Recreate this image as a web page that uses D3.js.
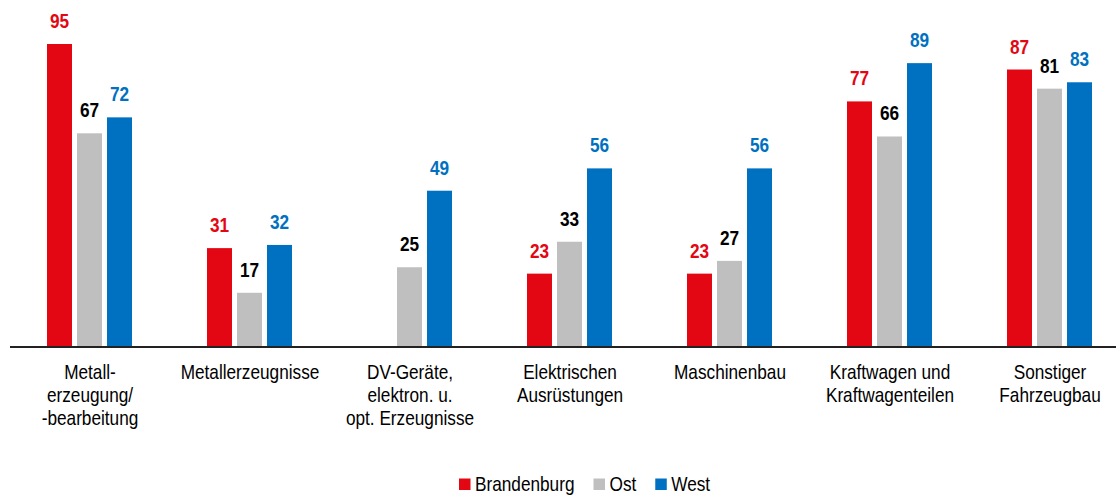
<!DOCTYPE html>
<html><head><meta charset="utf-8">
<script src="https://cdn.jsdelivr.net/npm/d3@7"></script>
<style>
body{margin:0;background:#fff;}
svg{display:block;font-family:"Liberation Sans",Arial,sans-serif;}
</style></head><body>
<svg id="chart" width="1116" height="495"></svg>
<script>
const categories = [
  ["Metall-","erzeugung/","-bearbeitung"],
  ["Metallerzeugnisse"],
  ["DV-Geräte,","elektron. u.","opt. Erzeugnisse"],
  ["Elektrischen","Ausrüstungen"],
  ["Maschinenbau"],
  ["Kraftwagen und","Kraftwagenteilen"],
  ["Sonstiger","Fahrzeugbau"]
];
const seriesNames = ["Brandenburg","Ost","West"];
const brandenburg = [95, 31, null, 23, 23, 77, 87];
const ost = [67, 17, 25, 33, 27, 66, 81];
const west = [72, 32, 49, 56, 56, 89, 83];
const barColors = ["#E30613","#BFBFBF","#0070C0"];
const labelColors = ["#E30613","#000000","#0070C0"];
const NARROW = 0.82;

const svg = d3.select("#chart");
const catKeys = categories.map((c,i)=>i);
const x0 = d3.scaleBand().domain(catKeys).range([10,1130]).padding(0);
const x1 = d3.scaleBand().domain(seriesNames).range([37,122]).paddingInner(1/6).paddingOuter(0);
const y = d3.scaleLinear().domain([0,95]).range([347,44]);

const values = [brandenburg, ost, west];
const data = [];
catKeys.forEach(ci=>{
  seriesNames.forEach((s,si)=>{
    const v = values[si][ci];
    if (v!==null && v!==undefined) data.push({ci, s, si, v});
  });
});

svg.append("g").selectAll("rect").data(data).join("rect")
  .attr("x", d=>x0(d.ci)+x1(d.s))
  .attr("y", d=>y(d.v))
  .attr("width", x1.bandwidth())
  .attr("height", d=>y(0)-y(d.v))
  .attr("fill", d=>barColors[d.si]);

svg.append("g").selectAll("text").data(data).join("text")
  .attr("transform", d=>`translate(${x0(d.ci)+x1(d.s)+x1.bandwidth()/2},${y(d.v)-16}) scale(${NARROW},1)`)
  .attr("text-anchor","middle")
  .attr("font-weight","bold")
  .attr("font-size","21px")
  .attr("fill", d=>labelColors[d.si])
  .text(d=>d.v);

// axis
const xAxis = d3.axisBottom(x0).tickSize(0).tickFormat("");
const ax = svg.append("g").attr("transform",`translate(0,${y(0)})`).call(xAxis);
ax.select(".domain").attr("stroke","#222").attr("stroke-width",2).attr("d","M10,0H1116");

// category labels
const cl = svg.append("g").selectAll("text").data(categories).join("text")
  .attr("text-anchor","middle")
  .attr("font-size","21px")
  .attr("fill","#000")
  .attr("transform",(d,i)=>`translate(${x0(i)+x0.bandwidth()/2},379) scale(${NARROW},1)`);
cl.selectAll("tspan").data(d=>d).join("tspan")
  .attr("x",0).attr("y",(d,i)=>i*23.2).text(d=>d);

// legend
const lg = svg.append("g").attr("transform","translate(459,0)");
let lx = 0;
seriesNames.forEach((s,i)=>{
  lg.append("rect").attr("x",lx).attr("y",478.5).attr("width",11.5).attr("height",11.5).attr("fill",barColors[i]);
  const t = lg.append("text").attr("transform",`translate(${lx+16},491) scale(${NARROW},1)`)
    .attr("font-size","21px").attr("fill","#000").text(s);
  lx += 16 + t.node().getComputedTextLength()*NARROW + 19;
});
</script></body></html>
